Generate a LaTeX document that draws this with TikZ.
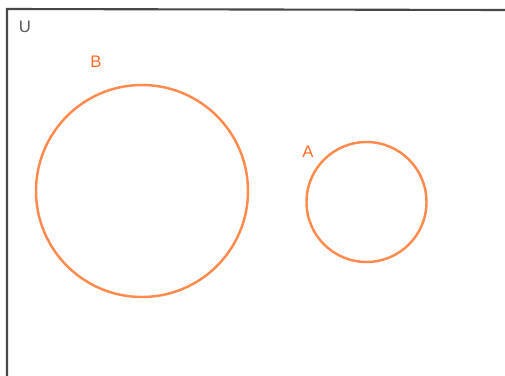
\documentclass[tikz,border=0pt]{standalone}
\usepackage{fontspec}
\setmainfont{Liberation Sans}
\usepackage{xcolor}
\usepackage{tikz}
\usetikzlibrary{shapes,positioning,calc}

\definecolor{setline}{HTML}{FF8A4C}
\definecolor{setlabel}{HTML}{FF6A24}
\definecolor{frameline}{HTML}{474747}

\tikzset{
  setcircle/.style={draw=setline,line width=1.4pt,circle,inner sep=0pt},
  setname/.style={text=setlabel,font=\fontsize{9.5}{11}\selectfont,inner sep=0pt},
  univname/.style={text=frameline!90,font=\fontsize{9.5}{11}\selectfont,inner sep=0pt}
}

\begin{document}
\begin{tikzpicture}[x=0.02cm,y=-0.02cm]
            \useasboundingbox (0,0) rectangle (505,376);
            \clip (0,0) rectangle (505,376);

            % Universe
            \draw[frameline,line width=1.2pt] (7,380) -- (7,9) -- (510,10);
            \node[univname] (labelU) at (25,27) {U};

            % Sets
            \node[setcircle,minimum size=212*0.02cm] (setB) at (142,191) {};
            \node[setcircle,minimum size=120*0.02cm] (setA) at (366.5,202) {};

            % Labels
            \node[setname] (labelB) at (96,62) {B};
            \node[setname] (labelA) at (308,152) {A};
        \end{tikzpicture}
\end{document}
